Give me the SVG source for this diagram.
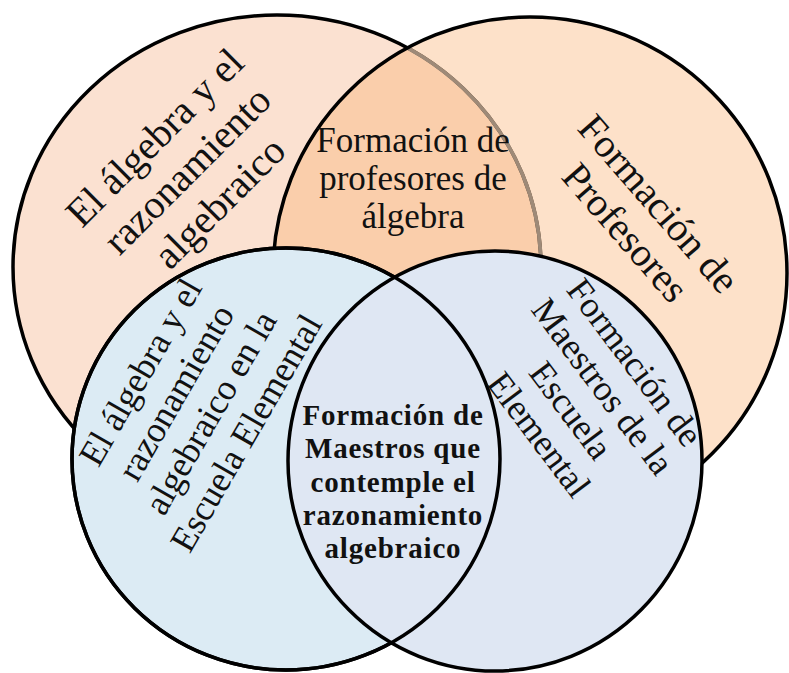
<svg xmlns="http://www.w3.org/2000/svg" xmlns:xlink="http://www.w3.org/1999/xlink" width="789" height="673" viewBox="0 0 789 673">
<style>
.o{stroke:#000;stroke-width:3.5}
.line{fill:none;stroke:#000;stroke-width:3.5}
.t{font-family:"Liberation Serif","Times New Roman",serif;fill:#111;text-anchor:middle}
.b{font-weight:bold;letter-spacing:0.8px}
</style>
<defs>
<ellipse id="tl-shape" cx="277" cy="267" rx="264" ry="252"/>
<ellipse id="tr-shape" cx="530" cy="273" rx="257" ry="256"/>
<ellipse id="bl-shape" cx="286" cy="459" rx="214" ry="211"/>
<clipPath id="tr-clip"><use xlink:href="#tr-shape"/></clipPath>
</defs>
<rect width="789" height="673" fill="#fff"/>
<g id="algebra">
<use xlink:href="#tl-shape" fill="#FBE1D1" class="o"/>
<text class="t" font-size="40" transform="translate(188,171) rotate(-45)"><tspan x="0" y="-34">El álgebra y el</tspan><tspan x="0" y="12">razonamiento</tspan><tspan x="0" y="58">algebraico</tspan></text>
</g>
<g id="profesores">
<use xlink:href="#tr-shape" fill="#FAAB69" fill-opacity="0.36" stroke="none"/>
<use xlink:href="#tl-shape" fill="none" stroke="#9E8A78" stroke-width="3.6" clip-path="url(#tr-clip)"/>
<use xlink:href="#tr-shape" class="line"/>
<text class="t" font-size="40" transform="translate(641,219) rotate(49)"><tspan x="0" y="-10">Formación de</tspan><tspan x="0" y="34">Profesores</tspan></text>
</g>
<g id="profesores-algebra">
<text class="t" font-size="35"><tspan x="413" y="152">Formación de</tspan><tspan x="413" y="190">profesores de</tspan><tspan x="413" y="228">álgebra</tspan></text>
</g>
<g id="escuela">
<use xlink:href="#bl-shape" fill="#DCEBF4" class="o"/>
<text class="t" font-size="36" transform="translate(194,403) rotate(-60)"><tspan x="0" y="-50">El álgebra y el</tspan><tspan x="0" y="-9">razonamiento</tspan><tspan x="0" y="31">algebraico en la</tspan><tspan x="0" y="72">Escuela Elemental</tspan></text>
</g>
<g id="maestros">
<ellipse cx="495" cy="461" rx="207" ry="210" fill="#DFE7F3" class="o"/>
<use xlink:href="#bl-shape" class="line"/>
<text class="t" font-size="36" transform="translate(586,399) rotate(53)"><tspan x="0" y="-49">Formación de</tspan><tspan x="0" y="-9">Maestros de la</tspan><tspan x="0" y="31">Escuela</tspan><tspan x="0" y="71">Elemental</tspan></text>
</g>
<g id="maestros-algebra">
<text class="t b" font-size="29"><tspan x="393" y="425">Formación de</tspan><tspan x="393" y="458">Maestros que</tspan><tspan x="393" y="492">contemple el</tspan><tspan x="393" y="525">razonamiento</tspan><tspan x="393" y="558">algebraico</tspan></text>
</g>
</svg>
